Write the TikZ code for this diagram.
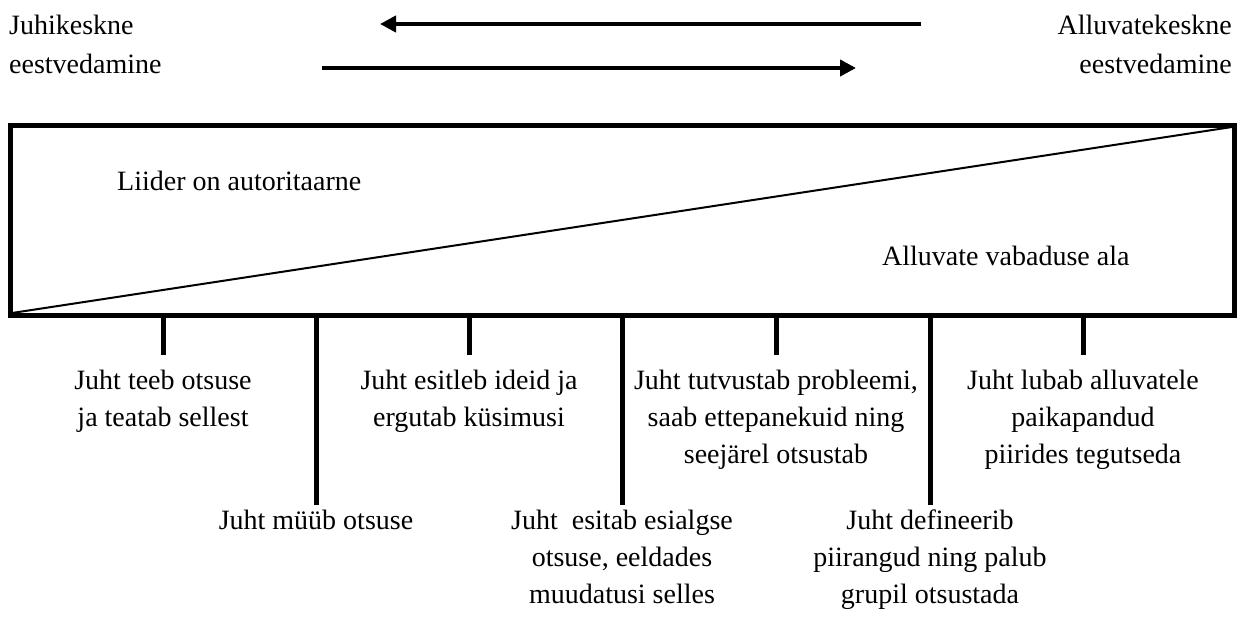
\documentclass[tikz,border=0pt]{standalone}
\usepackage{fontspec}
\setmainfont{Liberation Serif}
\usetikzlibrary{arrows.meta}
\tikzset{
  txt/.style={inner sep=0pt, font=\fontsize{28}{37}\selectfont},
  lbl/.style={txt, align=center, anchor=north},
  frame/.style={draw, line width=5pt, minimum width=1224pt, minimum height=190pt, inner sep=0pt},
  tick/.style={line width=5pt},
  dirarrow/.style={line width=4pt, -{Triangle[length=16pt,width=16pt]}},
  diag/.style={line width=2pt}
}
\begin{document}
\begin{tikzpicture}[x=1pt,y=-1pt]
\useasboundingbox (0,0) rectangle (1240,624);
% top texts
\node[txt, anchor=base west] (jk1) at (9,34) {Juhikeskne};
\node[txt, anchor=base west] (jk2) at (9,73) {eestvedamine};
\node[txt, anchor=base east] (ak1) at (1232,34) {Alluvatekeskne};
\node[txt, anchor=base east] (ak2) at (1232,73) {eestvedamine};
% arrows
\coordinate (a1s) at (921,24);
\coordinate (a1e) at (380,24);
\coordinate (a2s) at (322,68);
\coordinate (a2e) at (856,68);
\draw[dirarrow] (a1s) -- (a1e);
\draw[dirarrow] (a2s) -- (a2e);
% box
\node[frame] (box) at (622,220) {};
\coordinate (dl) at (12,313);
\coordinate (dr) at (1232,127);
\draw[diag] (dl) -- (dr);
\node[txt, anchor=base west] (lid) at (117,190) {Liider on autoritaarne};
\node[txt, anchor=base west] (alv) at (882,265) {Alluvate vabaduse ala};
% labels
\node[lbl] (l1) at (163,370) {Juht teeb otsuse\\ja teatab sellest};
\node[lbl] (l3) at (469,370) {Juht esitleb ideid ja\\ergutab küsimusi};
\node[lbl] (l5) at (776,370) {Juht tutvustab probleemi,\\saab ettepanekuid ning\\seejärel otsustab};
\node[lbl] (l7) at (1083,370) {Juht lubab alluvatele\\paikapandud\\piirides tegutseda};
\node[lbl] (l2) at (316,510) {Juht müüb otsuse};
\node[lbl] (l4) at (622,510) {Juht~ esitab esialgse\\otsuse, eeldades\\muudatusi selles};
\node[lbl] (l6) at (930,510) {Juht defineerib\\piirangud ning palub\\grupil otsustada};
% ticks
\foreach \n/\x/\e in {l1/163/355, l3/469/355, l5/776/355, l7/1083/355, l2/316/505, l4/622/505, l6/930/505}{
  \coordinate (\n top) at (\x,315);
  \coordinate (\n end) at (\x,\e);
  \draw[tick] (\n top) -- (\n end);
}
\end{tikzpicture}
\end{document}
